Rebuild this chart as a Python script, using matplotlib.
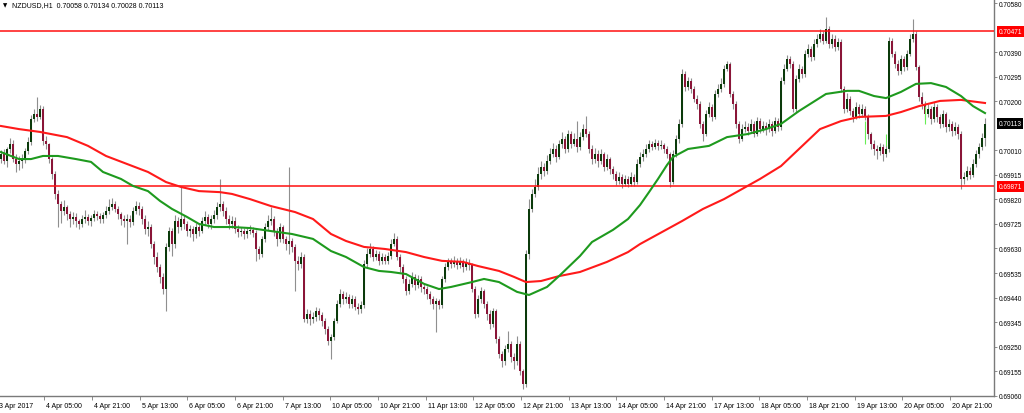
import matplotlib.pyplot as plt
import matplotlib.transforms as mtransforms
import numpy as np

plt.rcParams['font.family'] = ['Liberation Sans', 'DejaVu Sans']

# hourly NZDUSD candles, prices in points (1e-5)
opens = [
    69976, 69996, 69969, 70015, 70034, 69976, 69957, 69969, 69976, 70007,
    70042, 70131, 70150, 70139, 70170, 70046, 70034, 69976, 69918, 69841,
    69802, 69775, 69790, 69763, 69744, 69752, 69736, 69725, 69744, 69752,
    69736, 69748, 69763, 69756, 69744, 69759, 69775, 69790, 69802, 69783,
    69763, 69744, 69736, 69744, 69732, 69775, 69794, 69783, 69744, 69705,
    69713, 69647, 69597, 69558, 69520, 69473, 69636, 69698, 69647, 69736,
    69713, 69744, 69725, 69698, 69705, 69686, 69713, 69698, 69736, 69752,
    69725, 69744, 69759, 69790, 69802, 69775, 69744, 69725, 69736, 69705,
    69694, 69698, 69686, 69698, 69702, 69690, 69628, 69609, 69667, 69713,
    69736, 69744, 69698, 69667, 69713, 69667, 69647, 69659, 69636, 69582,
    69570, 69597, 69357, 69376, 69357, 69365, 69388, 69373, 69349, 69318,
    69272, 69287, 69349, 69415, 69454, 69434, 69442, 69415, 69434, 69404,
    69396, 69411, 69570, 69609, 69628, 69597, 69609, 69582, 69597, 69582,
    69601, 69647, 69667, 69597, 69558, 69512, 69465, 69493, 69520, 69489,
    69512, 69481, 69473, 69454, 69434, 69415, 69427, 69411, 69512, 69558,
    69578, 69570, 69582, 69566, 69578, 69558, 69574, 69566, 69473, 69376,
    69434, 69465, 69415, 69376, 69338, 69388, 69280, 69222, 69195, 69241,
    69260, 69210, 69195, 69260, 69156, 69106, 69609, 69783, 69841, 69868,
    69918, 69945, 69930, 69969, 69996, 70015, 69984, 70034, 70054, 70015,
    70073, 70034, 70054, 70023, 70061, 70092, 70073, 70015, 69976, 69996,
    69969, 69996, 69945, 69976, 69938, 69918, 69891, 69907, 69880, 69899,
    69880, 69907, 69887, 69957, 69984, 69996, 70015, 70034, 70023, 70038,
    70027, 70030, 70015, 69996, 69887, 69996, 70054, 70112, 70305, 70255,
    70278, 70247, 70209, 70189, 70112, 70073, 70150, 70178, 70139, 70228,
    70247, 70267, 70325, 70344, 70228, 70189, 70112, 70054, 70092, 70100,
    70085, 70112, 70073, 70123, 70092, 70104, 70092, 70112, 70085, 70123,
    70100, 70278, 70325, 70363, 70344, 70170, 70286, 70325, 70305, 70383,
    70402, 70371, 70421, 70441, 70460, 70433, 70479, 70421, 70441, 70410,
    70429, 70247, 70170, 70209, 70162, 70139, 70178, 70150, 70170, 70143,
    70073, 70034, 70015, 70007, 70023, 69996, 70015, 70433, 70383, 70344,
    70317, 70363, 70332, 70383, 70441, 70460, 70332, 70216, 70189, 70150,
    70170, 70131, 70178, 70139, 70112, 70150, 70100, 70112, 70085, 70100,
    70073, 69899, 69907, 69930, 69914, 69957, 69996, 70023, 70058,
]
highs = [
    70010, 70016, 70023, 70059, 70049, 69994, 69987, 69994, 70020, 70062,
    70145, 70168, 70218, 70185, 70180, 70065, 70040, 69985, 69930, 69855,
    69815, 69818, 69800, 69775, 69770, 69768, 69745, 69760, 69780, 69765,
    69760, 69778, 69775, 69768, 69772, 69795, 69820, 69825, 69812, 69795,
    69770, 69760, 69762, 69758, 69790, 69815, 69808, 69795, 69760, 69735,
    69725, 69660, 69615, 69570, 69535, 69650, 69715, 69710, 69760, 69750,
    69868, 69760, 69738, 69722, 69718, 69730, 69725, 69752, 69775, 69765,
    69760, 69780, 69810, 69899, 69815, 69790, 69760, 69755, 69750, 69720,
    69715, 69710, 69712, 69720, 69715, 69700, 69640, 69680, 69730, 69760,
    69790, 69755, 69710, 69730, 69722, 69680, 69945, 69672, 69648, 69600,
    69615, 69610, 69395, 69390, 69385, 69405, 69400, 69385, 69360, 69330,
    69300, 69362, 69430, 69475, 69465, 69460, 69455, 69450, 69445, 69420,
    69425, 69585, 69630, 69650, 69640, 69625, 69620, 69612, 69610, 69618,
    69665, 69690, 69680, 69610, 69570, 69525, 69510, 69538, 69530, 69528,
    69522, 69495, 69485, 69465, 69445, 69440, 69435, 69525, 69575, 69595,
    69592, 69600, 69595, 69598, 69590, 69592, 69588, 69575, 69485, 69450,
    69480, 69475, 69425, 69390, 69400, 69395, 69290, 69235, 69255, 69310,
    69270, 69225, 69290, 69270, 69165, 69625, 69821, 69860, 69900, 69945,
    69970, 69960, 69990, 70020, 70040, 70030, 70050, 70080, 70065, 70090,
    70085, 70075, 70123, 70080, 70110, 70143, 70085, 70030, 70020, 70010,
    70015, 70005, 69995, 69985, 69950, 69930, 69925, 69920, 69915, 69910,
    69925, 69918, 69975, 70005, 70015, 70035, 70050, 70045, 70055, 70050,
    70048, 70040, 70025, 70005, 70010, 70070, 70130, 70325, 70315, 70295,
    70290, 70258, 70225, 70200, 70125, 70165, 70195, 70190, 70245, 70265,
    70290, 70340, 70356, 70350, 70240, 70200, 70125, 70110, 70125, 70115,
    70130, 70125, 70140, 70135, 70125, 70120, 70130, 70125, 70140, 70135,
    70295, 70345, 70380, 70375, 70355, 70300, 70345, 70338, 70400, 70420,
    70415, 70440, 70460, 70480, 70470, 70526, 70490, 70460, 70455, 70445,
    70440, 70260, 70230, 70220, 70175, 70195, 70190, 70188, 70180, 70150,
    70080, 70050, 70030, 70040, 70035, 70030, 70450, 70445, 70395, 70360,
    70380, 70375, 70400, 70460, 70518, 70470, 70340, 70235, 70200, 70190,
    70180, 70195, 70190, 70150, 70165, 70160, 70130, 70125, 70118, 70110,
    70085, 69925, 69950, 69945, 69975, 70010, 70040, 70075, 70134,
]
lows = [
    69960, 69955, 69947, 70000, 69966, 69926, 69935, 69941, 69962, 69995,
    70030, 70118, 70125, 70130, 70030, 70015, 69960, 69900, 69820, 69715,
    69730, 69760, 69740, 69712, 69725, 69715, 69705, 69712, 69730, 69722,
    69718, 69735, 69740, 69728, 69730, 69748, 69765, 69780, 69770, 69745,
    69722, 69715, 69647, 69715, 69720, 69765, 69760, 69725, 69685, 69680,
    69630, 69570, 69540, 69495, 69455, 69388, 69620, 69600, 69630, 69690,
    69700, 69705, 69680, 69675, 69660, 69670, 69680, 69690, 69720, 69710,
    69705, 69730, 69745, 69775, 69755, 69725, 69705, 69710, 69690, 69675,
    69680, 69668, 69672, 69685, 69675, 69582, 69590, 69598, 69655, 69700,
    69722, 69680, 69640, 69655, 69650, 69625, 69609, 69615, 69465, 69545,
    69555, 69345, 69340, 69335, 69342, 69350, 69355, 69330, 69300, 69255,
    69202, 69275, 69340, 69405, 69415, 69420, 69398, 69400, 69390, 69375,
    69380, 69400, 69560, 69598, 69580, 69585, 69565, 69570, 69568, 69570,
    69590, 69640, 69585, 69540, 69495, 69450, 69455, 69480, 69470, 69478,
    69460, 69455, 69435, 69415, 69395, 69307, 69395, 69400, 69500, 69545,
    69555, 69560, 69550, 69555, 69540, 69545, 69548, 69460, 69360, 69365,
    69420, 69400, 69355, 69320, 69325, 69265, 69205, 69170, 69180, 69230,
    69190, 69165, 69180, 69140, 69086, 69095, 69590, 69770, 69830, 69855,
    69900, 69910, 69918, 69955, 69985, 69965, 69975, 70020, 70000, 70005,
    70020, 70025, 70005, 70010, 70050, 70060, 70000, 69955, 69960, 69945,
    69955, 69930, 69935, 69920, 69900, 69875, 69880, 69865, 69870, 69868,
    69870, 69872, 69880, 69945, 69970, 69985, 70005, 70010, 70015, 70012,
    70015, 70000, 69980, 69868, 69880, 69985, 70040, 70100, 70240, 70245,
    70230, 70195, 70170, 70095, 70046, 70065, 70140, 70125, 70130, 70215,
    70235, 70255, 70315, 70215, 70170, 70095, 70040, 70045, 70080, 70068,
    70075, 70060, 70065, 70078, 70080, 70070, 70080, 70065, 70075, 70085,
    70090, 70265, 70315, 70330, 70160, 70160, 70275, 70290, 70295, 70370,
    70355, 70360, 70410, 70430, 70420, 70425, 70405, 70405, 70395, 70398,
    70235, 70155, 70160, 70145, 70120, 70130, 70135, 70140, 70128, 70055,
    70015, 69990, 69975, 69990, 69970, 69985, 70005, 70370, 70330, 70300,
    70305, 70315, 70320, 70375, 70430, 70320, 70200, 70170, 70130, 70138,
    70110, 70120, 70120, 70095, 70100, 70080, 70085, 70065, 70070, 70055,
    69860, 69880, 69895, 69900, 69905, 69945, 69980, 70010, 70028,
]
closes = [
    69996, 69969, 70015, 70034, 69976, 69957, 69969, 69976, 70007, 70042,
    70131, 70150, 70139, 70170, 70046, 70034, 69976, 69918, 69841, 69802,
    69775, 69790, 69763, 69744, 69752, 69736, 69725, 69744, 69752, 69736,
    69748, 69763, 69756, 69744, 69759, 69775, 69790, 69802, 69783, 69763,
    69744, 69736, 69744, 69732, 69775, 69794, 69783, 69744, 69705, 69713,
    69647, 69597, 69558, 69520, 69473, 69636, 69698, 69647, 69736, 69713,
    69744, 69725, 69698, 69705, 69686, 69713, 69698, 69736, 69752, 69725,
    69744, 69759, 69790, 69802, 69775, 69744, 69725, 69736, 69705, 69694,
    69698, 69686, 69698, 69702, 69690, 69628, 69609, 69667, 69713, 69736,
    69744, 69698, 69667, 69713, 69667, 69647, 69659, 69636, 69582, 69570,
    69597, 69357, 69376, 69357, 69365, 69388, 69373, 69349, 69318, 69272,
    69287, 69349, 69415, 69454, 69434, 69442, 69415, 69434, 69404, 69396,
    69411, 69570, 69609, 69628, 69597, 69609, 69582, 69597, 69582, 69601,
    69647, 69667, 69597, 69558, 69512, 69465, 69493, 69520, 69489, 69512,
    69481, 69473, 69454, 69434, 69415, 69427, 69411, 69512, 69558, 69578,
    69570, 69582, 69566, 69578, 69558, 69574, 69566, 69473, 69376, 69434,
    69465, 69415, 69376, 69338, 69388, 69280, 69222, 69195, 69241, 69260,
    69210, 69195, 69260, 69156, 69106, 69609, 69783, 69841, 69868, 69918,
    69945, 69930, 69969, 69996, 70015, 69984, 70034, 70054, 70015, 70073,
    70034, 70054, 70023, 70061, 70092, 70073, 70015, 69976, 69996, 69969,
    69996, 69945, 69976, 69938, 69918, 69891, 69907, 69880, 69899, 69880,
    69907, 69887, 69957, 69984, 69996, 70015, 70034, 70023, 70038, 70027,
    70030, 70015, 69996, 69887, 69996, 70054, 70112, 70305, 70255, 70278,
    70247, 70209, 70189, 70112, 70073, 70150, 70178, 70139, 70228, 70247,
    70267, 70325, 70344, 70228, 70189, 70112, 70054, 70092, 70100, 70085,
    70112, 70073, 70123, 70092, 70104, 70092, 70112, 70085, 70123, 70100,
    70278, 70325, 70363, 70344, 70170, 70286, 70325, 70305, 70383, 70402,
    70371, 70421, 70441, 70460, 70433, 70479, 70421, 70441, 70410, 70429,
    70247, 70170, 70209, 70162, 70139, 70178, 70150, 70170, 70143, 70073,
    70034, 70015, 70007, 70023, 69996, 70015, 70433, 70383, 70344, 70317,
    70363, 70332, 70383, 70441, 70460, 70332, 70216, 70189, 70150, 70170,
    70131, 70178, 70139, 70112, 70150, 70100, 70112, 70085, 70100, 70073,
    69899, 69907, 69930, 69914, 69957, 69996, 70023, 70058, 70113,
]

# moving averages (bar index, price points)
ma_fast_bars = [0, 6, 10, 14, 19, 25, 30, 34, 40, 44, 49, 53, 57, 62, 66, 71, 77, 83, 92, 97,
                104, 110, 115, 121, 126, 130, 135, 141, 146, 150, 157, 161, 166, 172, 176, 182,
                186, 193, 197, 204, 209, 213, 216, 219, 222, 224, 229, 236, 242, 249, 255, 260,
                266, 275, 282, 286, 291, 295, 300, 305, 310, 315, 320, 324, 328]
ma_fast = [70003, 69976, 69976, 69988, 69988, 69976, 69965, 69926, 69899, 69872,
           69852, 69814, 69783, 69752, 69725, 69713, 69713, 69709, 69694, 69686,
           69667, 69620, 69597, 69558, 69543, 69539, 69531, 69493, 69473, 69481,
           69500, 69512, 69500, 69462, 69450, 69481, 69523, 69601, 69655, 69702,
           69744, 69798, 69848, 69899, 69953, 69984, 70015, 70027, 70061, 70073,
           70092, 70112, 70162, 70228, 70240, 70240, 70220, 70212, 70236, 70267,
           70270, 70255, 70220, 70181, 70154]
ma_slow_bars = [0, 6, 13, 22, 29, 35, 42, 49, 55, 60, 66, 73, 77, 83, 90, 98, 104, 110, 115, 121,
                128, 135, 141, 147, 154, 159, 166, 171, 175, 180, 186, 193, 202, 209, 213, 227,
                234, 241, 253, 260, 266, 273, 280, 286, 295, 300, 306, 313, 320, 328]
ma_slow = [70104, 70092, 70081, 70061, 70027, 69988, 69957, 69926, 69887, 69868,
           69852, 69848, 69841, 69821, 69794, 69771, 69744, 69686, 69659, 69636,
           69628, 69616, 69597, 69582, 69578, 69562, 69543, 69520, 69500, 69504,
           69523, 69539, 69578, 69616, 69647, 69736, 69783, 69821, 69899, 69949,
           70015, 70092, 70123, 70139, 70143, 70158, 70181, 70201, 70205, 70193]

# short lime marks near the right side
lime_bars = [288, 295, 308]
lime_hi = [70123, 70073, 70181]
lime_lo = [70034, 70027, 70112]

levels = [0.70471, 0.69871]
last_price = 0.70113
header = 'NZDUSD,H1  0.70058 0.70134 0.70028 0.70113'
price_ticks = [0.70580, 0.70390, 0.70295, 0.70200, 0.70010, 0.69915, 0.69820, 0.69725,
               0.69630, 0.69535, 0.69440, 0.69345, 0.69250, 0.69155, 0.69060]
date_labels = ['3 Apr 2017', '4 Apr 05:00', '4 Apr 21:00', '5 Apr 13:00', '6 Apr 05:00',
               '6 Apr 21:00', '7 Apr 13:00', '10 Apr 05:00', '10 Apr 21:00', '11 Apr 13:00',
               '12 Apr 05:00', '12 Apr 21:00', '13 Apr 13:00', '14 Apr 05:00', '14 Apr 21:00',
               '17 Apr 13:00', '18 Apr 05:00', '18 Apr 21:00', '19 Apr 13:00', '20 Apr 05:00',
               '20 Apr 21:00']

o = np.array(opens) / 1e5
h = np.array(highs) / 1e5
l = np.array(lows) / 1e5
c = np.array(closes) / 1e5
x = np.arange(len(c))

fig = plt.figure(figsize=(10.24, 4.14), dpi=100)
ax = fig.add_axes([0, 17 / 414, 994 / 1024, 397 / 414])
ax.set_xlim(-1 / 3, 331)
ax.set_ylim(0.690590, 0.705955)

# candles
ax.vlines(x, l, h, color='#8f8f8f', linewidth=0.8, zorder=2)
up = c >= o
lo = np.minimum(o, c)
hgt = np.maximum(np.abs(c - o), 0.00002)
ax.bar(x[up], hgt[up], bottom=lo[up], width=0.62, color='#0b3a0b', linewidth=0, zorder=3)
ax.bar(x[~up], hgt[~up], bottom=lo[~up], width=0.62, color='#8a1538', linewidth=0, zorder=3)
ax.vlines(lime_bars, np.array(lime_lo) / 1e5, np.array(lime_hi) / 1e5,
          color='#66ee55', linewidth=0.8, zorder=3)

# levels and moving averages
for lv in levels:
    ax.axhline(lv, color='#ff1010', linewidth=1.1, zorder=4)
ax.plot(ma_slow_bars, np.array(ma_slow) / 1e5, color='#ff1a1a', linewidth=1.5, zorder=5)
ax.plot(ma_fast_bars, np.array(ma_fast) / 1e5, color='#1e9a1e', linewidth=1.5, zorder=6)

# axes styling
for s in ['top', 'left']:
    ax.spines[s].set_visible(False)
for s in ['right', 'bottom']:
    ax.spines[s].set_color('#7a7a7a')
    ax.spines[s].set_linewidth(1.0)
ax.yaxis.tick_right()
ax.set_yticks(price_ticks)
ax.set_yticklabels([f'{p:.5f}' for p in price_ticks])
ax.tick_params(axis='y', length=2, width=0.6, color='#7a7a7a', labelsize=4.7, pad=1.2)

# date axis (labels every 16 bars, left aligned at the tick)
tick_pos = (44.3 + 47.67 * (np.arange(len(date_labels)) - 1) - 1) / 3
ax.set_xticks(tick_pos[1:])
ax.set_xticklabels([])
ax.tick_params(axis='x', length=3, width=0.6, color='#7a7a7a')
trans_x = mtransforms.blended_transform_factory(ax.transData, fig.transFigure)
for pos, lab in zip(tick_pos, date_labels):
    ax.text(pos + 0.7, 7.5 / 414, lab, transform=trans_x, fontsize=5, ha='left',
            va='center', clip_on=False)

# price boxes on the scale
trans_y = mtransforms.blended_transform_factory(ax.transAxes, ax.transData)
for val, fc in [(levels[0], '#ff0000'), (levels[1], '#ff0000'), (last_price, '#000000')]:
    ax.text(1.0 + 4.5 / 994, val, f'{val:.5f}', transform=trans_y, fontsize=4.7, color='white',
            ha='left', va='center', clip_on=False, zorder=10,
            bbox=dict(boxstyle='square,pad=0.3', fc=fc, ec='none'))

fig.text(3 / 1024, 1 - 6 / 414, '\u25bc', fontsize=4, va='center', family='DejaVu Sans')
fig.text(12 / 1024, 1 - 6 / 414, header, fontsize=5, va='center')

plt.savefig('out.png', dpi=100)
